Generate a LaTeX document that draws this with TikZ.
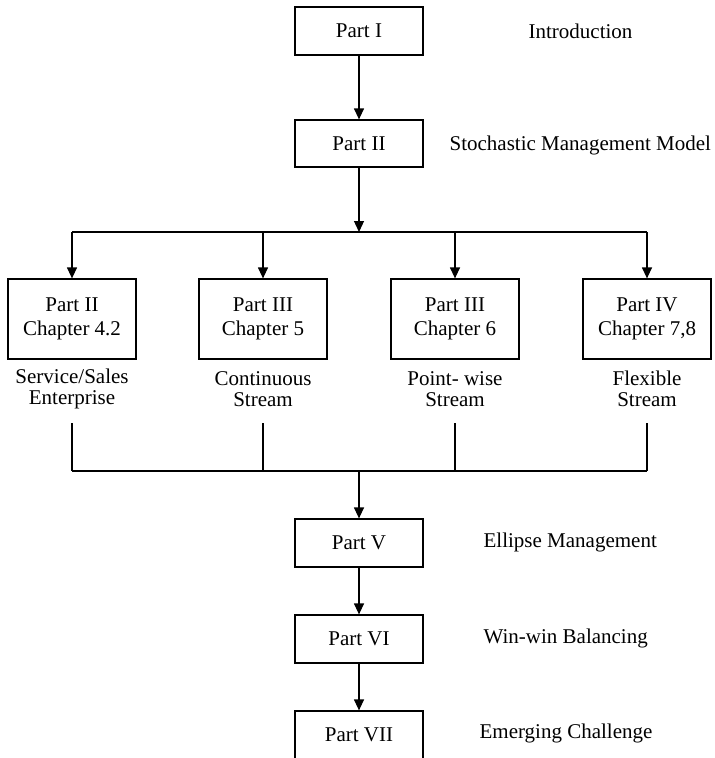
\documentclass[tikz,border=0pt]{standalone}
\usepackage{fontspec}
\setmainfont{Liberation Serif}
\usetikzlibrary{arrows.meta}
\begin{document}
\begin{tikzpicture}[x=1pt,y=-1pt,
  font=\fontsize{21}{23.5}\selectfont,
  line width=1.25pt,
  box/.style={draw, minimum width=128pt, minimum height=48pt, inner sep=0pt},
  chapbox/.style={box, minimum height=80pt, align=center},
  sub/.style={align=center, inner sep=0pt, font=\fontsize{21}{21}\selectfont},
  side/.style={anchor=base west, inner sep=0pt},
  arr/.style={-{Triangle[length=11pt,width=10pt]}}]
  \clip (0,0) rectangle (715,758);

  % main column
  \node[box] (p1) at (359,31) {Part I};
  \node[box, minimum height=47pt] (p2) at (359,143.5) {Part II};
  \coordinate (split) at (359,232);

  % four streams
  \node[chapbox] (c1) at (72,319)  {Part II\\Chapter 4.2};
  \node[chapbox] (c2) at (263,319) {Part III\\Chapter 5};
  \node[chapbox] (c3) at (455,319) {Part III\\Chapter 6};
  \node[chapbox] (c4) at (647,319) {Part IV\\Chapter 7,8};

  \node[sub] (s1) at (72,389)  {Service/Sales\\Enterprise};
  \node[sub] (s2) at (263,389) {Continuous\\Stream};
  \node[sub] (s3) at (455,389) {Point- wise\\Stream};
  \node[sub] (s4) at (647,389) {Flexible\\Stream};

  \coordinate (d1) at (72,423);
  \coordinate (d2) at (263,423);
  \coordinate (d3) at (455,423);
  \coordinate (d4) at (647,423);
  \coordinate (join) at (359,471);

  \node[box] (p5) at (359,543) {Part V};
  \node[box] (p6) at (359,639) {Part VI};
  \node[box] (p7) at (359,735) {Part VII};

  % side captions
  \node[side] (t1) at (528,38)  {Introduction};
  \node[side] (t2) at (449,150) {Stochastic Management Model};
  \node[side] (t5) at (483,547) {Ellipse Management};
  \node[side] (t6) at (483,643) {Win-win Balancing};
  \node[side] (t7) at (479,738) {Emerging Challenge};

  % connectors
  \draw[arr] (p1) -- (p2);
  \draw[arr] (p2) -- (split);
  \draw (c1.north |- split) -- (c4.north |- split);
  \foreach \c in {c1,c2,c3,c4}
    \draw[arr] (\c.north |- split) -- (\c.north);

  \foreach \d in {d1,d2,d3,d4}
    \draw (\d) -- (\d |- join);
  \draw (d1 |- join) -- (d4 |- join);
  \draw[arr] (join) -- (p5);
  \draw[arr] (p5) -- (p6);
  \draw[arr] (p6) -- (p7);
\end{tikzpicture}
\end{document}
